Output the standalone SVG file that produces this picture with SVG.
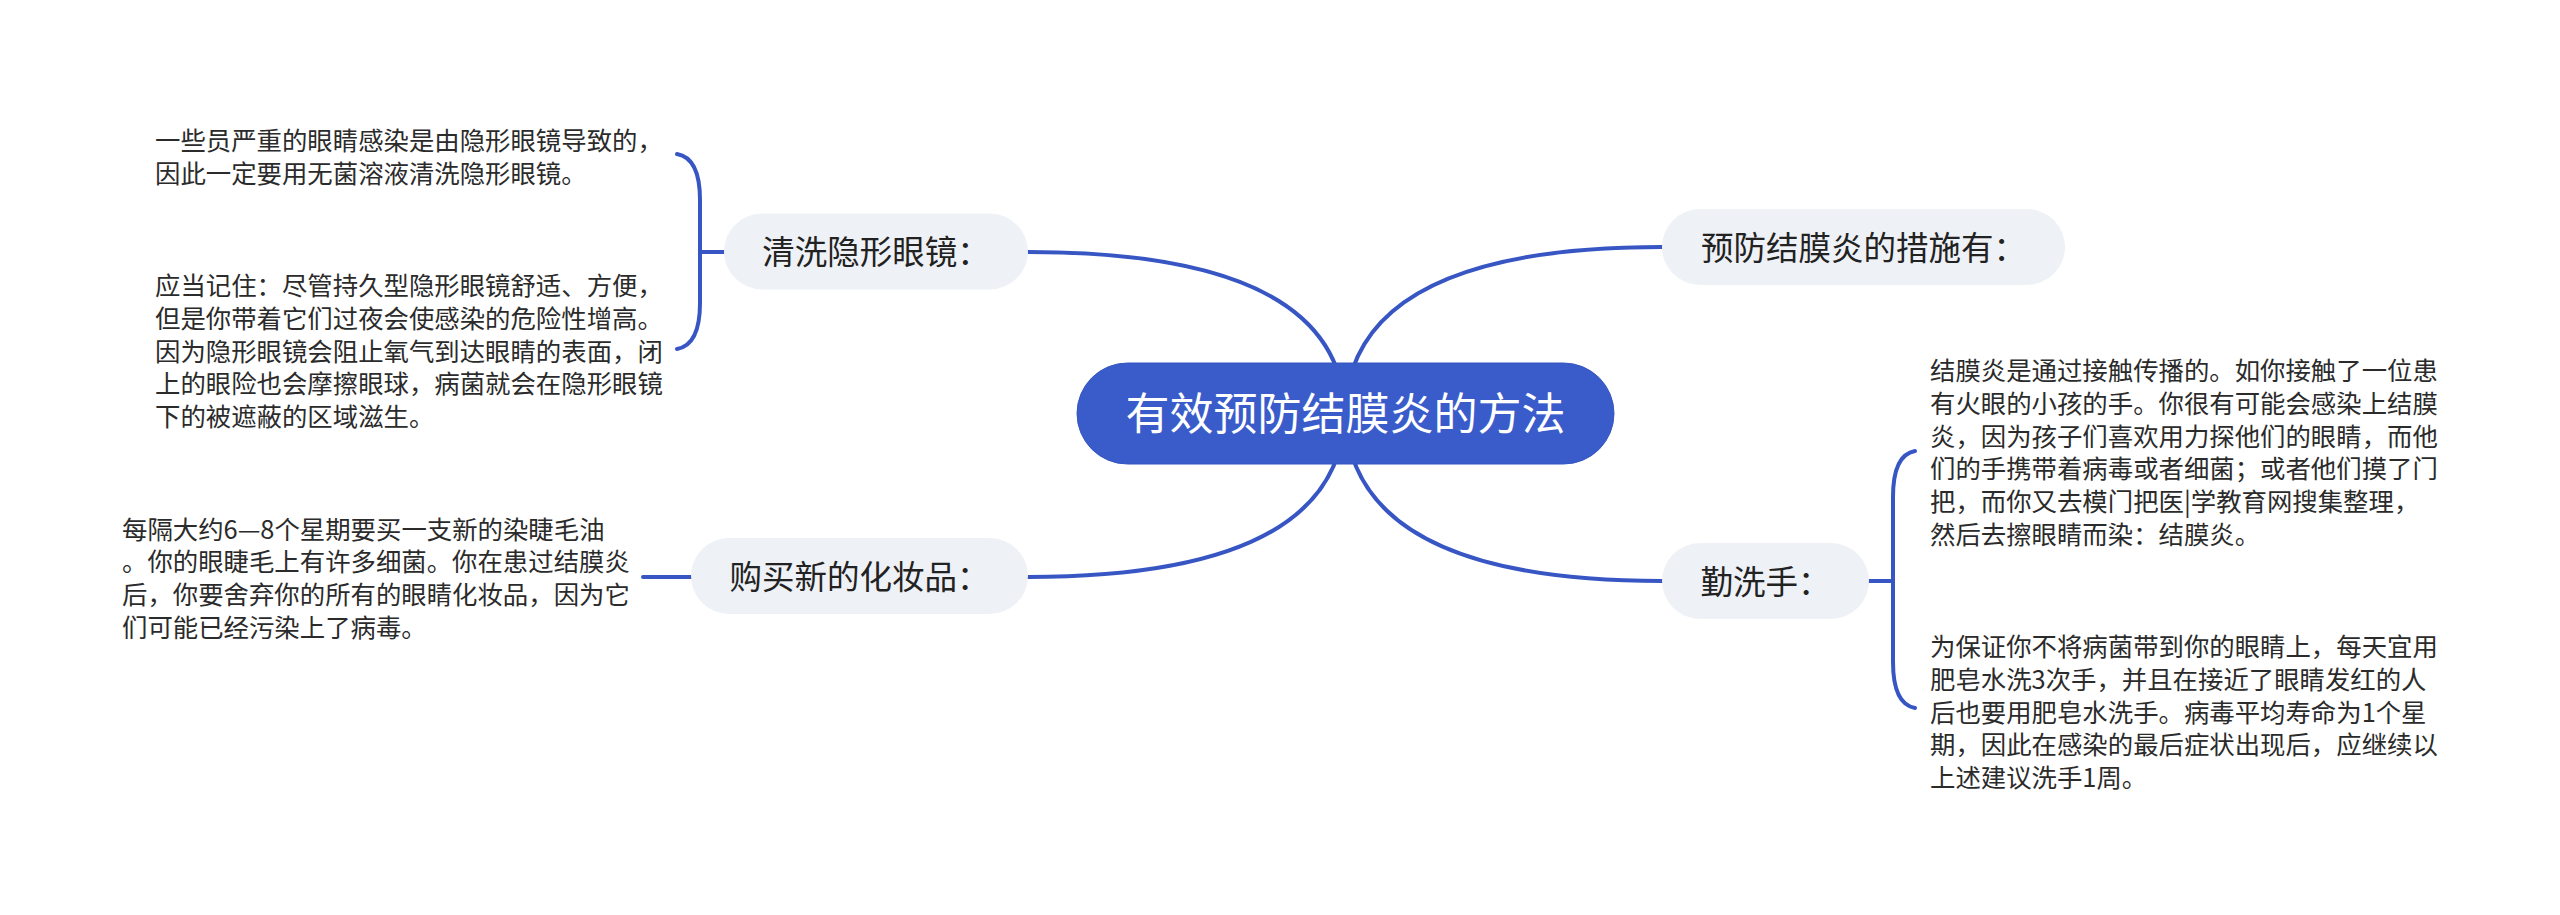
<svg xmlns="http://www.w3.org/2000/svg" width="2560" height="915" viewBox="0 0 2560 915">
<style>
.bg{fill:#ffffff}
.conn{fill:none;stroke:#3756C4;stroke-width:4;stroke-linecap:round}
.root rect{fill:#3A5CCB;stroke:#3556BE;stroke-width:1}
.root text{fill:#ffffff;font-family:"Noto Sans CJK SC","Noto Sans",sans-serif;font-size:44px;text-anchor:middle}
.topic rect{fill:#EEF1F5}
.topic text{fill:#222222;font-family:"Noto Sans CJK SC","Noto Sans",sans-serif;font-size:32.5px;text-anchor:middle}
.note text{fill:#2b2b2b;font-family:"Noto Sans CJK SC","Noto Sans",sans-serif;font-size:25.4px}
</style>
<rect class="bg" x="0" y="0" width="2560" height="915"/>
<g id="connectors">
<path class="conn" d="M1345,413 Q1340,252 1028,252"/>
<path class="conn" d="M1345,413 Q1350,247 1662,247"/>
<path class="conn" d="M1345,413 Q1340,577 1028,577"/>
<path class="conn" d="M1345,413 Q1350,581 1662,581"/>
<path class="conn" d="M677,154 Q700,158 700,200 L700,303 Q700,345 677,349"/>
<path class="conn" d="M700,252 L724,252"/>
<path class="conn" d="M1915,451 Q1893,455 1893,497 L1893,662 Q1893,704 1915,708"/>
<path class="conn" d="M1869,581 L1893,581"/>
<path class="conn" d="M643,577 L691,577"/>
</g>
<g id="root" class="root">
<rect x="1077" y="363" width="537" height="101" rx="50.5"/>
<text x="1345.5" y="430">有效预防结膜炎的方法</text>
</g>
<g id="n-qingxi" class="topic">
<rect x="724" y="213.5" width="304" height="76" rx="38"/>
<text x="876" y="264">清洗隐形眼镜：</text>
</g>
<g id="n-yufang" class="topic">
<rect x="1662" y="209" width="403" height="76" rx="38"/>
<text x="1863.5" y="259.5">预防结膜炎的措施有：</text>
</g>
<g id="n-goumai" class="topic">
<rect x="691" y="538" width="337" height="76" rx="38"/>
<text x="859.5" y="588.5">购买新的化妆品：</text>
</g>
<g id="n-qinxishou" class="topic">
<rect x="1662" y="543" width="207" height="76" rx="38"/>
<text x="1765.5" y="593.5">勤洗手：</text>
</g>
<g id="t-qingxi-1" class="note">
<text x="155" y="150">一些员严重的眼睛感染是由隐形眼镜导致的，</text>
<text x="155" y="182.8">因此一定要用无菌溶液清洗隐形眼镜。</text>
</g>
<g id="t-qingxi-2" class="note">
<text x="155" y="295">应当记住：尽管持久型隐形眼镜舒适、方便，</text>
<text x="155" y="327.8">但是你带着它们过夜会使感染的危险性增高。</text>
<text x="155" y="360.6">因为隐形眼镜会阻止氧气到达眼睛的表面，闭</text>
<text x="155" y="393.4">上的眼险也会摩擦眼球，病菌就会在隐形眼镜</text>
<text x="155" y="426.2">下的被遮蔽的区域滋生。</text>
</g>
<g id="t-goumai" class="note">
<text x="122" y="538.5">每隔大约6—8个星期要买一支新的染睫毛油</text>
<text x="122" y="571.3">。你的眼睫毛上有许多细菌。你在患过结膜炎</text>
<text x="122" y="604.1">后，你要舍弃你的所有的眼睛化妆品，因为它</text>
<text x="122" y="636.9">们可能已经污染上了病毒。</text>
</g>
<g id="t-qinxishou-1" class="note">
<text x="1930" y="380">结膜炎是通过接触传播的。如你接触了一位患</text>
<text x="1930" y="412.8">有火眼的小孩的手。你很有可能会感染上结膜</text>
<text x="1930" y="445.6">炎，因为孩子们喜欢用力探他们的眼睛，而他</text>
<text x="1930" y="478.4">们的手携带着病毒或者细菌；或者他们摸了门</text>
<text x="1930" y="511.2">把，而你又去模门把医|学教育网搜集整理，</text>
<text x="1930" y="544">然后去擦眼睛而染：结膜炎。</text>
</g>
<g id="t-qinxishou-2" class="note">
<text x="1930" y="656">为保证你不将病菌带到你的眼睛上，每天宜用</text>
<text x="1930" y="688.8">肥皂水洗3次手，并且在接近了眼睛发红的人</text>
<text x="1930" y="721.6">后也要用肥皂水洗手。病毒平均寿命为1个星</text>
<text x="1930" y="754.4">期，因此在感染的最后症状出现后，应继续以</text>
<text x="1930" y="787.2">上述建议洗手1周。</text>
</g>
</svg>
